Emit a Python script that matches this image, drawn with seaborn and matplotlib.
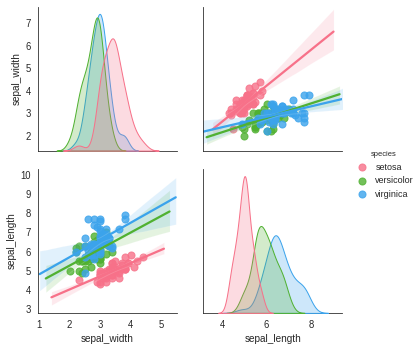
import pandas as pd
import matplotlib
matplotlib.use("Agg")
import matplotlib.pyplot as plt
from matplotlib.ticker import MultipleLocator
import seaborn as sns

# iris sepal measurements, read per species
setosa_sl = [5.1, 4.9, 4.7, 4.6, 5.0, 5.4, 4.6, 5.0, 4.4, 4.9, 5.4, 4.8, 4.8, 4.3, 5.8, 5.7, 5.4,
             5.1, 5.7, 5.1, 5.4, 5.1, 4.6, 5.1, 4.8, 5.0, 5.0, 5.2, 5.2, 4.7, 4.8, 5.4, 5.2, 5.5,
             4.9, 5.0, 5.5, 4.9, 4.4, 5.1, 5.0, 4.5, 4.4, 5.0, 5.1, 4.8, 5.1, 4.6, 5.3, 5.0]
setosa_sw = [3.5, 3.0, 3.2, 3.1, 3.6, 3.9, 3.4, 3.4, 2.9, 3.1, 3.7, 3.4, 3.0, 3.0, 4.0, 4.4, 3.9,
             3.5, 3.8, 3.8, 3.4, 3.7, 3.6, 3.3, 3.4, 3.0, 3.4, 3.5, 3.4, 3.2, 3.1, 3.4, 4.1, 4.2,
             3.1, 3.2, 3.5, 3.6, 3.0, 3.4, 3.5, 2.3, 3.2, 3.5, 3.8, 3.0, 3.8, 3.2, 3.7, 3.3]
versicolor_sl = [7.0, 6.4, 6.9, 5.5, 6.5, 5.7, 6.3, 4.9, 6.6, 5.2, 5.0, 5.9, 6.0, 6.1, 5.6, 6.7, 5.6,
                 5.8, 6.2, 5.6, 5.9, 6.1, 6.3, 6.1, 6.4, 6.6, 6.8, 6.7, 6.0, 5.7, 5.5, 5.5, 5.8, 6.0,
                 5.4, 6.0, 6.7, 6.3, 5.6, 5.5, 5.5, 6.1, 5.8, 5.0, 5.6, 5.7, 5.7, 6.2, 5.1, 5.7]
versicolor_sw = [3.2, 3.2, 3.1, 2.3, 2.8, 2.8, 3.3, 2.4, 2.9, 2.7, 2.0, 3.0, 2.2, 2.9, 2.9, 3.1, 3.0,
                 2.7, 2.2, 2.5, 3.2, 2.8, 2.5, 2.8, 2.9, 3.0, 2.8, 3.0, 2.9, 2.6, 2.4, 2.4, 2.7, 2.7,
                 3.0, 3.4, 3.1, 2.3, 3.0, 2.5, 2.6, 3.0, 2.6, 2.3, 2.7, 3.0, 2.9, 2.9, 2.5, 2.8]
virginica_sl = [6.3, 5.8, 7.1, 6.3, 6.5, 7.6, 4.9, 7.3, 6.7, 7.2, 6.5, 6.4, 6.8, 5.7, 5.8, 6.4, 6.5,
                7.7, 7.7, 6.0, 6.9, 5.6, 7.7, 6.3, 6.7, 7.2, 6.2, 6.1, 6.4, 7.2, 7.4, 7.9, 6.4, 6.3,
                6.1, 7.7, 6.3, 6.4, 6.0, 6.9, 6.7, 6.9, 5.8, 6.8, 6.7, 6.7, 6.3, 6.5, 6.2, 5.9]
virginica_sw = [3.3, 2.7, 3.0, 2.9, 3.0, 3.0, 2.5, 2.9, 2.5, 3.6, 3.2, 2.7, 3.0, 2.5, 2.8, 3.2, 3.0,
                3.8, 2.6, 2.2, 3.2, 2.8, 2.8, 2.7, 3.3, 3.2, 2.8, 3.0, 2.8, 3.0, 2.8, 3.8, 2.8, 2.8,
                2.6, 3.0, 3.4, 3.1, 3.0, 3.1, 3.1, 3.1, 2.7, 3.2, 3.3, 3.0, 2.5, 3.0, 3.4, 3.0]
species_names = ["setosa", "versicolor", "virginica"]

df = pd.DataFrame({
    "sepal_width": setosa_sw + versicolor_sw + virginica_sw,
    "sepal_length": setosa_sl + versicolor_sl + virginica_sl,
    "species": [s for s in species_names for _ in range(50)],
})

sns.set_style("white")
plt.rcParams["font.family"] = ["Liberation Sans", "DejaVu Sans"]
plt.rcParams["font.size"] = 10
plt.rcParams["axes.labelsize"] = 10
plt.rcParams["xtick.labelsize"] = 9.5
plt.rcParams["ytick.labelsize"] = 9.5
plt.rcParams["text.color"] = ".15"
plt.rcParams["axes.labelcolor"] = ".15"
plt.rcParams["xtick.color"] = ".15"
plt.rcParams["ytick.color"] = ".15"


def reg(x, y, **kws):
    # old-style regplot: line spans the current view and lets the axes keep growing
    ax = plt.gca()
    sns.regplot(x=x, y=y, ax=ax, truncate=False, scatter_kws={"s": 50}, **kws)
    for art in ax.lines + ax.collections:
        art.sticky_edges.x.clear()


g = sns.PairGrid(df, vars=["sepal_width", "sepal_length"], hue="species",
                 palette="husl", height=2.5, diag_sharey=False)
g.map_diag(sns.kdeplot, fill=True)
for ax in g.diag_axes:
    for art in ax.lines + ax.collections:
        art.sticky_edges.x.clear()
g.map_offdiag(reg)
g.add_legend()

# view limits and tick steps as in the reference
g.axes[1, 0].set_xlim(0.96, 5.5)
g.axes[1, 1].set_xlim(3.15, 9.4)
g.axes[0, 0].set_ylim(1.33, 7.73)
g.axes[1, 0].set_ylim(2.79, 10.31)
g.axes[1, 0].xaxis.set_major_locator(MultipleLocator(1))
g.axes[1, 1].xaxis.set_major_locator(MultipleLocator(2))
g.axes[0, 0].yaxis.set_major_locator(MultipleLocator(1))
g.axes[1, 0].yaxis.set_major_locator(MultipleLocator(1))

fig = g.figure
fig.set_size_inches(417 / 72, 350 / 72)
fig.subplots_adjust(left=0.091, right=0.820, top=0.98, bottom=0.106,
                    wspace=0.194, hspace=0.13)

sns.move_legend(g, "center right", bbox_to_anchor=(1.012, 0.5),
                frameon=False, fontsize=9, title_fontsize=7.5, handletextpad=0.5)

fig.savefig("out.png", dpi=72)
